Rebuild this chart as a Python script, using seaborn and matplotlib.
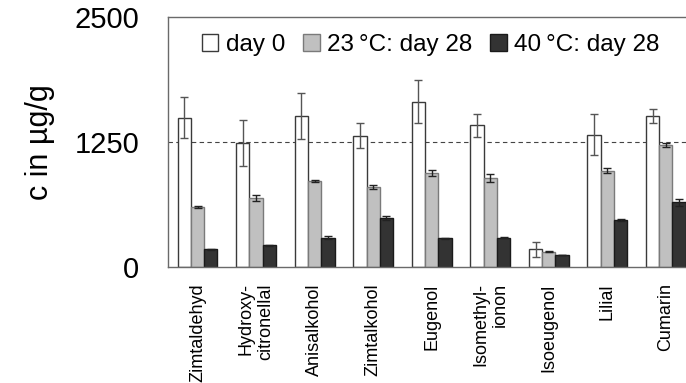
import matplotlib
matplotlib.use("Agg")
import matplotlib.pyplot as plt
import seaborn as sns
import pandas as pd
import numpy as np

# Compound names (tick labels) and measured concentrations in µg/g
compounds = ["Zimtaldehyd", "Hydroxy-\ncitronellal", "Anisalkohol", "Zimtalkohol",
             "Eugenol", "Isomethyl-\nionon", "Isoeugenol", "Lilial", "Cumarin"]
series = ["day 0", "23\u2009°C: day 28", "40\u2009°C: day 28"]

day0 = [1490, 1238, 1505, 1308, 1649, 1414, 174, 1318, 1508]
day0_err = [205, 232, 230, 126, 217, 114, 74, 205, 67]
d23 = [596, 689, 860, 796, 937, 886, 147, 960, 1218]
d23_err = [8, 32, 10, 18, 34, 38, 5, 22, 23]
d40 = [174, 214, 291, 485, 285, 288, 117, 465, 642]
d40_err = [3, 3, 18, 20, 4, 4, 3, 10, 34]

threshold = 1250

values = [day0, d23, d40]
errors = [day0_err, d23_err, d40_err]
rows = []
for s, vals in zip(series, values):
    for c, v in zip(compounds, vals):
        rows.append({"compound": c, "series": s, "c": v})
df = pd.DataFrame(rows)

sns.set_style("white")
plt.rcParams["font.family"] = ["Liberation Sans", "DejaVu Sans"]
plt.rcParams["text.color"] = "black"
plt.rcParams["xtick.color"] = "black"
plt.rcParams["ytick.color"] = "black"
plt.rcParams["axes.labelcolor"] = "black"

fig = plt.figure(figsize=(6.86, 3.83), dpi=100)
ax = fig.add_axes([0.2453, 0.3037, 0.768, 0.6528])

fills = ["#ffffff", "#c0c0c0", "#333333"]
edges = ["#3a3a3a", "#7a7a7a", "#1a1a1a"]
ecols = ["#555555", "#222222", "#222222"]

sns.barplot(data=df, x="compound", y="c", hue="series", order=compounds,
            hue_order=series, palette=fills, width=0.68, gap=0,
            errorbar=None, ax=ax, legend=True)

for cont, ec, err, vals, elc in zip(ax.containers, edges, errors, values, ecols):
    xs = []
    for bar in cont:
        bar.set_edgecolor(ec)
        bar.set_linewidth(1.0)
        xs.append(bar.get_x() + bar.get_width() / 2)
    ax.errorbar(xs, vals, yerr=err, fmt="none", ecolor=elc,
                elinewidth=1.0, capsize=3, capthick=1.0, zorder=5)

ax.axhline(threshold, color="#444444", linestyle=(0, (4, 3)), linewidth=0.8, zorder=0.5)

ax.set_ylim(0, 2500)
ax.set_xlim(-0.5, 8.5)
ax.set_yticks([0, 1250, 2500])
ax.set_yticklabels(["0", "1250", "2500"], fontsize=21)
ax.set_xticks(range(len(compounds)))
ax.set_xticklabels(compounds, rotation=90, fontsize=13, va="top", ha="center",
                   multialignment="right")
ax.set_xticks(np.arange(-0.5, 9.0, 1.0), minor=True)
ax.tick_params(axis="x", which="major", length=0, pad=12)
ax.tick_params(axis="x", which="minor", length=5, width=1, color="#555555", direction="out")
ax.tick_params(axis="y", length=7, width=1, color="#777777", direction="out", pad=14)
ax.set_xlabel("")
ax.set_ylabel("c in µg/g", fontsize=22, labelpad=14)

for side in ["left", "top", "bottom", "right"]:
    ax.spines[side].set_visible(True)
    ax.spines[side].set_color("#6a6a6a")
    ax.spines[side].set_linewidth(1.0)

handles, labels = ax.get_legend_handles_labels()
for h, fc, ec in zip(handles, fills, edges):
    h.set_facecolor(fc)
    h.set_edgecolor(ec)
    h.set_linewidth(1.0)
ax.legend(handles, labels, loc="upper right", bbox_to_anchor=(0.965, 1.0), ncol=3,
          frameon=False, fontsize=17.5, handlelength=0.68, handleheight=0.68,
          handletextpad=0.3, columnspacing=0.75, borderaxespad=0.3)

fig.savefig("out.png", dpi=100)
